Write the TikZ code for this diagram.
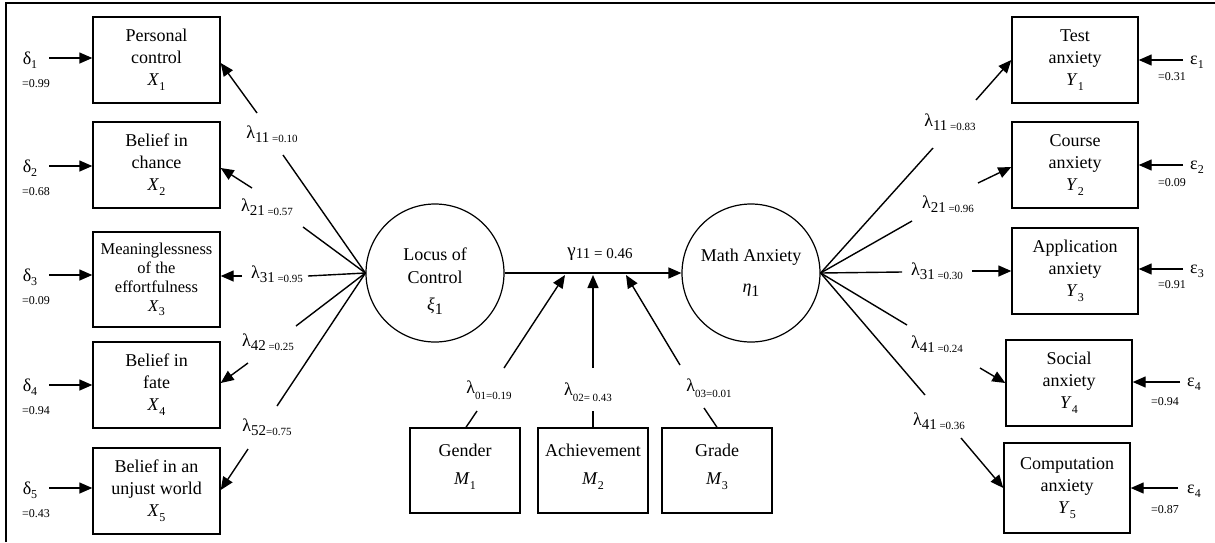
\documentclass[tikz,border=0pt]{standalone}
\usepackage{fontspec}
\setmainfont{Liberation Serif}
\usetikzlibrary{arrows.meta}
\newcommand{\sbs}[1]{\raisebox{-0.28em}{\fontsize{12}{12}\selectfont #1}}
\newcommand{\lamlab}[3]{{\fontsize{18}{18}\selectfont λ}\raisebox{-4pt}{\fontsize{15}{15}\selectfont #1}\raisebox{-4pt}{\fontsize{11}{11}\selectfont #2}}
\newcommand{\modlab}[1]{{\fontsize{18}{18}\selectfont λ}\raisebox{-6pt}{\fontsize{11}{11}\selectfont #1}}
\newcommand{\errlab}[2]{{\fontsize{18}{18}\selectfont #1}\raisebox{-4pt}{\fontsize{12}{12}\selectfont #2}}
\begin{document}
\begin{tikzpicture}[x=1pt,y=-1pt,
  box/.style={draw,line width=1.4pt,inner sep=0pt,minimum width=127pt,minimum height=86pt,align=center,font=\fontsize{18}{22}\selectfont},
  mbox/.style={draw,line width=1.4pt,inner sep=0pt,minimum width=110pt,minimum height=85pt,align=center,font=\fontsize{18}{22}\selectfont},
  lat/.style={draw,circle,line width=1.2pt,inner sep=0pt,minimum size=138pt,align=center,font=\fontsize{18}{23}\selectfont},
  path/.style={line width=1.4pt},
  arr/.style={line width=1.4pt,-{Triangle[length=13pt,width=11pt]}},
  val/.style={font=\fontsize{12}{12}\selectfont,inner sep=0pt},
  lab/.style={inner sep=0pt}
]
\useasboundingbox (0,0) rectangle (1215,542);
\draw[line width=1.2pt] (6,542) -- (6,3) -- (1215,3);

% left indicator boxes
\node[box] (X1) at (156.5,60) {Personal\\control\\\textit{X}\sbs{1}};
\node[box] (X2) at (156.5,165) {Belief in\\chance\\\textit{X}\sbs{2}};
\node[box,minimum height=95pt,font=\fontsize{16.5}{19}\selectfont] (X3) at (156.5,279.5) {Meaninglessness\\of the\\effortfulness\\\textit{X}\sbs{3}};
\node[box] (X4) at (156.5,385) {Belief in\\fate\\\textit{X}\sbs{4}};
\node[box] (X5) at (156.5,491) {Belief in an\\unjust world\\\textit{X}\sbs{5}};

% right indicator boxes
\node[box,minimum width=126pt] (Y1) at (1075,60) {Test\\anxiety\\\textit{Y}\sbs{1}};
\node[box,minimum width=126pt] (Y2) at (1075,165) {Course\\anxiety\\\textit{Y}\sbs{2}};
\node[box,minimum width=126pt] (Y3) at (1075,271) {Application\\anxiety\\\textit{Y}\sbs{3}};
\node[box,minimum width=126pt] (Y4) at (1069,383) {Social\\anxiety\\\textit{Y}\sbs{4}};
\node[box,minimum width=126pt,minimum height=90pt] (Y5) at (1067,488) {Computation\\anxiety\\\textit{Y}\sbs{5}};

% latent variables
\node[lat] (L) at (435,273) {\rule{0pt}{29pt}Locus of\\Control\\[4pt]\textit{ξ}\raisebox{-0.2em}{\fontsize{16}{16}\selectfont 1}};
\node[lat] (M) at (751,273) {Math Anxiety\\[8pt]\textit{η}\raisebox{-0.2em}{\fontsize{16}{16}\selectfont 1}};

% moderators
\node[mbox] (M1) at (465,470.5) {Gender\\[6pt]\textit{M}\sbs{1}\rule[-12pt]{0pt}{0pt}};
\node[mbox] (M2) at (593,470.5) {Achievement\\[6pt]\textit{M}\sbs{2}\rule[-12pt]{0pt}{0pt}};
\node[mbox] (M3) at (717,470.5) {Grade\\[6pt]\textit{M}\sbs{3}\rule[-12pt]{0pt}{0pt}};

% structural path
\draw[arr] (L.east) -- (M.west);
\node[lab] (g) at (600,254) {{\fontsize{19}{19}\selectfont γ}\raisebox{-2pt}{\fontsize{15}{15}\selectfont 11 = 0.46}};

% left loadings
\coordinate (g1a) at (283,155); \coordinate (g1b) at (257,113);
\coordinate (g2a) at (303,227); \coordinate (g2b) at (252,188);
\coordinate (g3a) at (308,276); \coordinate (g3b) at (242,276);
\coordinate (g4a) at (296,326); \coordinate (g4b) at (248,363);
\coordinate (g5a) at (277,406); \coordinate (g5b) at (248,449);
\draw[path] (L.west) -- (g1a);
\draw[path] (L.west) -- (g2a);
\draw[path] (L.west) -- (g3a);
\draw[path] (L.west) -- (g4a);
\draw[path] (L.west) -- (g5a);
\draw[arr] (g1b) -- ([yshift=-3pt]X1.east);
\draw[arr] (g2b) -- ([yshift=-3pt]X2.east);
\draw[arr] (g3b) -- (X3.east |- g3b);
\draw[arr] (g4b) -- ([yshift=2pt]X4.east);
\draw[arr] (g5b) -- ([yshift=1pt]X5.east);
\node[lab] (l11) at (272,134) {\lamlab{11}{ =0.10}{}};
\node[lab] (l21) at (267,207) {\lamlab{21}{ =0.57}{}};
\node[lab] (l31) at (277,274) {\lamlab{31}{ =0.95}{}};
\node[lab] (l42) at (268,342) {\lamlab{42}{ =0.25}{}};
\node[lab] (l52) at (267,427) {\lamlab{52}{=0.75}{}};

% delta errors
\foreach \i/\y/\v in {1/58/0.99,2/166/0.68,3/275/0.09,4/385/0.94,5/488/0.43}{
  \coordinate (d\i) at (49,\y);
  \draw[arr] (d\i) -- (X\i.west |- d\i);
  \node[lab] (dl\i) at (30,\y+2) {\errlab{δ}{\i}};
  \node[val] (dv\i) at (36,\y+26) {=\v};
}

% right loadings
\coordinate (h1a) at (933,148); \coordinate (h1b) at (976,100);
\coordinate (h2a) at (912,221); \coordinate (h2b) at (978,183);
\coordinate (h3a) at (902,272); \coordinate (h3b) at (972,271);
\coordinate (h4a) at (907,325); \coordinate (h4b) at (980,368);
\coordinate (h5a) at (925,395); \coordinate (h5b) at (961,438);
\foreach \i in {1,...,5}{ \draw[path] (M.east) -- (h\i a); }
\draw[arr] (h1b) -- (Y1.west);
\draw[arr] (h2b) -- ([yshift=-2pt]Y2.west);
\draw[arr] (h3b) -- (Y3.west);
\draw[arr] (h4b) -- (Y4.west);
\draw[arr] (h5b) -- (Y5.west);
\node[lab] (r11) at (950,122) {\lamlab{11}{ =0.83}{}};
\node[lab] (r21) at (948,204) {\lamlab{21}{ =0.96}{}};
\node[lab] (r31) at (937,271) {\lamlab{31}{ =0.30}{}};
\node[lab] (r41) at (937,344) {\lamlab{41}{ =0.24}{}};
\node[lab] (r51) at (939,421) {\lamlab{41}{ =0.36}{}};

% epsilon errors
\coordinate (e1) at (1183,60);
\coordinate (e2) at (1183,165);
\coordinate (e3) at (1183,269);
\coordinate (e4) at (1180,382);
\coordinate (e5) at (1178,488);
\draw[arr] (e1) -- (Y1.east |- e1);
\draw[arr] (e2) -- (Y2.east |- e2);
\draw[arr] (e3) -- (Y3.east |- e3);
\draw[arr] (e4) -- (Y4.east |- e4);
\draw[arr] (e5) -- (Y5.east |- e5);
\node[lab] (el1) at (1197,62) {\errlab{ε}{1}};
\node[lab] (el2) at (1197,167) {\errlab{ε}{2}};
\node[lab] (el3) at (1197,271) {\errlab{ε}{3}};
\node[lab] (el4) at (1194,384) {\errlab{ε}{4}};
\node[lab] (el5) at (1194,491) {\errlab{ε}{4}};
\node[val] (ev1) at (1172,77) {=0.31};
\node[val] (ev2) at (1172,183) {=0.09};
\node[val] (ev3) at (1172,285) {=0.91};
\node[val] (ev4) at (1165,402) {=0.94};
\node[val] (ev5) at (1165,510) {=0.87};

% moderator paths
\coordinate (t1) at (565,275); \coordinate (t2) at (593,275); \coordinate (t3) at (626,275);
\coordinate (m1a) at (477,411); \coordinate (m1b) at (504,368);
\coordinate (m2a) at (593,411); \coordinate (m2b) at (593,368);
\coordinate (m3a) at (704,408); \coordinate (m3b) at (680,365);
\draw[path] ([xshift=1pt]M1.north) -- (m1a);
\draw[path] (M2.north) -- (m2a);
\draw[path] (M3.north) -- (m3a);
\draw[arr] (m1b) -- (t1);
\draw[arr] (m2b) -- (t2);
\draw[arr] (m3b) -- (t3);
\node[lab] (ml1) at (489,390) {\modlab{01=0.19}};
\node[lab] (ml2) at (588,392) {\modlab{02= 0.43}};
\node[lab] (ml3) at (709,388) {\modlab{03=0.01}};
\end{tikzpicture}
\end{document}
